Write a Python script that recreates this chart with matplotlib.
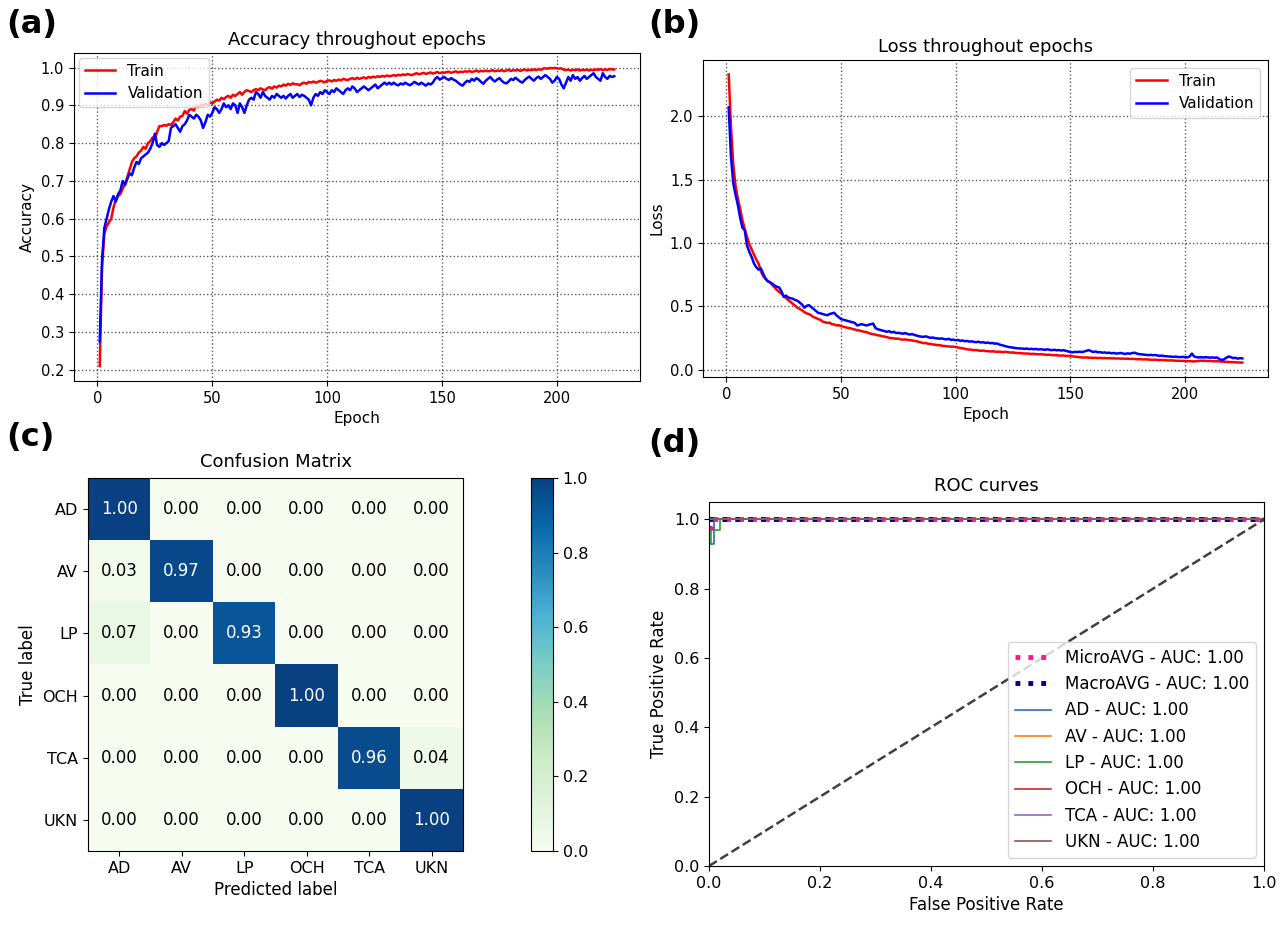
import numpy as np
import matplotlib
matplotlib.use("Agg")
import matplotlib.pyplot as plt

# training history (epochs 1..225)
train_acc = [
    0.21, 0.47, 0.56, 0.58, 0.59, 0.60, 0.63, 0.65, 0.66, 0.665, 0.68, 0.69, 0.71, 0.73, 0.75,
    0.76, 0.765, 0.775, 0.78, 0.79, 0.785, 0.80, 0.805, 0.815, 0.81, 0.83, 0.845, 0.845, 0.848, 0.846,
    0.85, 0.848, 0.855, 0.865, 0.86, 0.87, 0.872, 0.885, 0.878, 0.888, 0.89, 0.886, 0.90, 0.895, 0.902,
    0.898, 0.905, 0.90, 0.908, 0.905, 0.91, 0.915, 0.912, 0.92, 0.916, 0.922, 0.925, 0.92, 0.928, 0.925,
    0.93, 0.935, 0.928, 0.936, 0.94, 0.938, 0.935, 0.94, 0.943, 0.94, 0.945, 0.942, 0.94, 0.946, 0.948,
    0.944, 0.95, 0.947, 0.952, 0.95, 0.955, 0.952, 0.957, 0.954, 0.958, 0.956, 0.956, 0.953, 0.958, 0.96,
    0.957, 0.962, 0.96, 0.963, 0.96, 0.962, 0.965, 0.963, 0.961, 0.965, 0.966, 0.963, 0.967, 0.965, 0.968,
    0.966, 0.97, 0.968, 0.967, 0.97, 0.972, 0.969, 0.973, 0.97, 0.972, 0.974, 0.971, 0.975, 0.973, 0.976,
    0.974, 0.977, 0.975, 0.978, 0.976, 0.979, 0.977, 0.978, 0.98, 0.978, 0.981, 0.979, 0.982, 0.98, 0.983,
    0.981, 0.98, 0.983, 0.985, 0.982, 0.984, 0.986, 0.983, 0.985, 0.987, 0.984, 0.986, 0.988, 0.985, 0.987,
    0.986, 0.988, 0.989, 0.986, 0.988, 0.99, 0.987, 0.989, 0.988, 0.99, 0.989, 0.991, 0.988, 0.99, 0.992,
    0.989, 0.991, 0.99, 0.992, 0.99, 0.991, 0.993, 0.99, 0.992, 0.991, 0.993, 0.99, 0.992, 0.994, 0.991,
    0.993, 0.992, 0.994, 0.991, 0.993, 0.995, 0.992, 0.994, 0.993, 0.995, 0.993, 0.996, 0.994, 0.997, 0.998,
    0.997, 0.999, 0.998, 0.999, 0.998, 0.997, 0.998, 0.994, 0.993, 0.995, 0.992, 0.994, 0.993, 0.995, 0.992,
    0.994, 0.993, 0.995, 0.992, 0.994, 0.993, 0.995, 0.994, 0.996, 0.993, 0.995, 0.994, 0.996, 0.995, 0.995,
]
val_acc = [
    0.275, 0.49, 0.575, 0.60, 0.625, 0.645, 0.66, 0.645, 0.665, 0.675, 0.70, 0.69, 0.705, 0.72, 0.715,
    0.735, 0.75, 0.745, 0.76, 0.765, 0.77, 0.775, 0.785, 0.80, 0.825, 0.795, 0.79, 0.80, 0.795, 0.80,
    0.805, 0.84, 0.845, 0.85, 0.84, 0.83, 0.845, 0.85, 0.86, 0.875, 0.87, 0.865, 0.875, 0.87, 0.86,
    0.84, 0.855, 0.875, 0.87, 0.88, 0.895, 0.89, 0.88, 0.89, 0.905, 0.895, 0.90, 0.89, 0.905, 0.90,
    0.88, 0.905, 0.895, 0.88, 0.90, 0.915, 0.92, 0.915, 0.935, 0.93, 0.92, 0.935, 0.925, 0.92, 0.915,
    0.925, 0.92, 0.93, 0.925, 0.92, 0.925, 0.918, 0.925, 0.93, 0.92, 0.925, 0.93, 0.922, 0.928, 0.925,
    0.92, 0.915, 0.90, 0.92, 0.93, 0.925, 0.935, 0.93, 0.94, 0.935, 0.93, 0.94, 0.935, 0.945, 0.94,
    0.935, 0.93, 0.94, 0.945, 0.94, 0.95, 0.945, 0.935, 0.94, 0.945, 0.95, 0.945, 0.94, 0.945, 0.95,
    0.955, 0.945, 0.95, 0.955, 0.96, 0.955, 0.96, 0.955, 0.96, 0.955, 0.953, 0.958, 0.955, 0.96, 0.956,
    0.953, 0.957, 0.962, 0.958, 0.955, 0.96, 0.956, 0.952, 0.958, 0.955, 0.96, 0.97, 0.975, 0.968, 0.972,
    0.975, 0.97, 0.967, 0.972, 0.968, 0.965, 0.96, 0.955, 0.952, 0.96, 0.965, 0.962, 0.97, 0.965, 0.972,
    0.968, 0.962, 0.957, 0.965, 0.97, 0.975, 0.968, 0.963, 0.968, 0.972, 0.965, 0.96, 0.958, 0.963, 0.97,
    0.967, 0.973, 0.968, 0.963, 0.96, 0.967, 0.972, 0.976, 0.97, 0.965, 0.972, 0.976, 0.97, 0.975, 0.98,
    0.975, 0.97, 0.96, 0.965, 0.975, 0.97, 0.955, 0.945, 0.96, 0.975, 0.965, 0.98, 0.97, 0.975, 0.965,
    0.972, 0.978, 0.97, 0.975, 0.98, 0.985, 0.975, 0.97, 0.965, 0.985, 0.975, 0.97, 0.978, 0.975, 0.977,
]
train_loss = [
    2.33, 1.92, 1.62, 1.45, 1.35, 1.27, 1.18, 1.11, 1.05, 0.99, 0.95, 0.91, 0.87, 0.84, 0.78,
    0.74, 0.72, 0.70, 0.69, 0.67, 0.65, 0.63, 0.615, 0.60, 0.585, 0.565, 0.55, 0.535, 0.52, 0.505,
    0.49, 0.48, 0.47, 0.455, 0.445, 0.44, 0.43, 0.415, 0.41, 0.40, 0.395, 0.38, 0.375, 0.37, 0.372,
    0.36, 0.358, 0.35, 0.352, 0.345, 0.34, 0.335, 0.33, 0.328, 0.322, 0.318, 0.312, 0.31, 0.305, 0.30,
    0.298, 0.29, 0.285, 0.28, 0.278, 0.272, 0.27, 0.265, 0.262, 0.258, 0.252, 0.25, 0.248, 0.245, 0.246,
    0.24, 0.238, 0.24, 0.236, 0.234, 0.232, 0.228, 0.225, 0.22, 0.215, 0.21, 0.212, 0.205, 0.205, 0.20,
    0.198, 0.195, 0.195, 0.19, 0.188, 0.186, 0.185, 0.182, 0.183, 0.18, 0.176, 0.172, 0.17, 0.166, 0.162,
    0.16, 0.158, 0.155, 0.156, 0.152, 0.15, 0.152, 0.148, 0.147, 0.145, 0.146, 0.144, 0.142, 0.143, 0.141,
    0.14, 0.142, 0.138, 0.136, 0.137, 0.134, 0.132, 0.133, 0.13, 0.128, 0.129, 0.127, 0.125, 0.126, 0.124,
    0.122, 0.124, 0.121, 0.12, 0.118, 0.119, 0.116, 0.115, 0.116, 0.113, 0.112, 0.113, 0.11, 0.109, 0.108,
    0.106, 0.104, 0.102, 0.10, 0.098, 0.097, 0.098, 0.095, 0.096, 0.094, 0.095, 0.093, 0.094, 0.092, 0.093,
    0.091, 0.092, 0.09, 0.091, 0.089, 0.09, 0.088, 0.089, 0.087, 0.088, 0.086, 0.087, 0.085, 0.084, 0.085,
    0.083, 0.082, 0.083, 0.081, 0.08, 0.079, 0.08, 0.078, 0.077, 0.078, 0.076, 0.075, 0.074, 0.075, 0.073,
    0.072, 0.071, 0.07, 0.071, 0.069, 0.068, 0.07, 0.067, 0.066, 0.068, 0.07, 0.072, 0.07, 0.071, 0.069,
    0.07, 0.068, 0.067, 0.068, 0.066, 0.065, 0.064, 0.063, 0.062, 0.061, 0.06, 0.059, 0.058, 0.058, 0.057,
]
val_loss = [
    2.07, 1.68, 1.47, 1.38, 1.30, 1.20, 1.12, 1.10, 0.98, 0.93, 0.89, 0.84, 0.81, 0.79, 0.80,
    0.76, 0.72, 0.70, 0.69, 0.68, 0.665, 0.655, 0.65, 0.62, 0.575, 0.585, 0.57, 0.565, 0.56, 0.55,
    0.545, 0.53, 0.515, 0.49, 0.505, 0.51, 0.495, 0.48, 0.465, 0.45, 0.445, 0.44, 0.435, 0.43, 0.44,
    0.445, 0.45, 0.43, 0.415, 0.40, 0.395, 0.39, 0.385, 0.38, 0.375, 0.37, 0.35, 0.355, 0.36, 0.355,
    0.35, 0.355, 0.36, 0.365, 0.33, 0.32, 0.315, 0.31, 0.305, 0.30, 0.305, 0.295, 0.30, 0.29, 0.292,
    0.288, 0.285, 0.29, 0.283, 0.278, 0.282, 0.275, 0.27, 0.265, 0.262, 0.26, 0.264, 0.258, 0.252, 0.255,
    0.25, 0.248, 0.245, 0.248, 0.242, 0.24, 0.245, 0.236, 0.238, 0.233, 0.236, 0.228, 0.232, 0.225, 0.228,
    0.222, 0.225, 0.22, 0.218, 0.222, 0.215, 0.218, 0.212, 0.215, 0.21, 0.212, 0.206, 0.208, 0.20, 0.195,
    0.19, 0.185, 0.18, 0.178, 0.175, 0.172, 0.17, 0.168, 0.168, 0.165, 0.168, 0.163, 0.166, 0.162, 0.165,
    0.16, 0.163, 0.16, 0.158, 0.162, 0.157, 0.155, 0.158, 0.154, 0.156, 0.152, 0.155, 0.15, 0.145, 0.14,
    0.138, 0.142, 0.14, 0.143, 0.14, 0.144, 0.15, 0.155, 0.148, 0.14, 0.145, 0.138, 0.14, 0.135, 0.137,
    0.133, 0.135, 0.13, 0.133, 0.128, 0.13, 0.133, 0.128, 0.125, 0.13, 0.127, 0.132, 0.135, 0.128, 0.124,
    0.122, 0.12, 0.118, 0.116, 0.118, 0.115, 0.117, 0.113, 0.11, 0.112, 0.108, 0.107, 0.105, 0.104, 0.102,
    0.104, 0.101, 0.10, 0.102, 0.10, 0.098, 0.105, 0.128, 0.105, 0.10, 0.098, 0.10, 0.097, 0.10, 0.098,
    0.096, 0.098, 0.095, 0.097, 0.085, 0.078, 0.082, 0.095, 0.105, 0.10, 0.092, 0.095, 0.088, 0.092, 0.09,
]
epochs = np.arange(1, len(train_acc) + 1)

# normalized confusion matrix
classes = ["AD", "AV", "LP", "OCH", "TCA", "UKN"]
conf = np.array([
    [1.00, 0.00, 0.00, 0.00, 0.00, 0.00],
    [0.03, 0.97, 0.00, 0.00, 0.00, 0.00],
    [0.07, 0.00, 0.93, 0.00, 0.00, 0.00],
    [0.00, 0.00, 0.00, 1.00, 0.00, 0.00],
    [0.00, 0.00, 0.00, 0.00, 0.96, 0.04],
    [0.00, 0.00, 0.00, 0.00, 0.00, 1.00],
])

# ROC points per curve (fpr, tpr)
micro_fpr = [0.0, 0.005, 0.005, 1.0]
micro_tpr = [0.975, 0.975, 1.0, 1.0]
macro_fpr = [0.0, 1.0]
macro_tpr = [1.0, 1.0]
class_fpr = {
    "AD": [0.0, 0.0, 0.009, 0.009, 1.0],
    "AV": [0.0, 0.0, 1.0],
    "LP": [0.0, 0.0, 0.004, 0.004, 0.019, 0.019, 1.0],
    "OCH": [0.0, 0.0, 1.0],
    "TCA": [0.0, 0.0, 1.0],
    "UKN": [0.0, 0.0, 1.0],
}
class_tpr = {
    "AD": [0.0, 0.93, 0.93, 1.0, 1.0],
    "AV": [0.0, 1.0, 1.0],
    "LP": [0.0, 0.93, 0.93, 0.97, 0.97, 1.0, 1.0],
    "OCH": [0.0, 1.0, 1.0],
    "TCA": [0.0, 1.0, 1.0],
    "UKN": [0.0, 1.0, 1.0],
}
class_colors = ["tab:blue", "tab:orange", "tab:green", "tab:red", "tab:purple", "tab:brown"]

W, H = 1282, 932
fig = plt.figure(figsize=(W / 100, H / 100), dpi=100)


def px_axes(left, top, right, bottom):
    return fig.add_axes([left / W, 1 - bottom / H, (right - left) / W, (bottom - top) / H])


def auc(x, y):
    x = np.asarray(x)
    y = np.asarray(y)
    return float(np.sum(np.diff(x) * (y[1:] + y[:-1]) / 2))


tick_fs = 10.5
grid_kw = dict(color="0.35", linestyle=":", linewidth=1.0)

# (a) accuracy
ax = px_axes(74, 53, 640, 381)
ax.plot(epochs, train_acc, color="red", lw=1.8, label="Train")
ax.plot(epochs, val_acc, color="blue", lw=1.8, label="Validation")
ax.set_title("Accuracy throughout epochs", fontsize=13)
ax.set_xlabel("Epoch", fontsize=11)
ax.set_ylabel("Accuracy", fontsize=11)
ax.set_yticks(np.arange(0.2, 1.01, 0.1))
ax.set_xticks([0, 50, 100, 150, 200])
ax.tick_params(labelsize=tick_fs)
ax.grid(True, **grid_kw)
ax.legend(loc="upper left", fontsize=11, borderaxespad=0.3)

# (b) loss
ax = px_axes(703, 60, 1268, 377)
ax.plot(epochs, train_loss, color="red", lw=1.8, label="Train")
ax.plot(epochs, val_loss, color="blue", lw=1.8, label="Validation")
ax.set_title("Loss throughout epochs", fontsize=13)
ax.set_xlabel("Epoch", fontsize=11)
ax.set_ylabel("Loss", fontsize=11)
ax.set_yticks([0.0, 0.5, 1.0, 1.5, 2.0])
ax.set_xticks([0, 50, 100, 150, 200])
ax.tick_params(labelsize=tick_fs)
ax.grid(True, **grid_kw)
ax.legend(loc="upper right", fontsize=11)

# (c) confusion matrix
ax = px_axes(88, 478, 463, 851)
im = ax.imshow(conf, cmap="GnBu", vmin=0, vmax=1, aspect="auto")
for i in range(len(classes)):
    for j in range(len(classes)):
        v = conf[i, j]
        ax.text(j, i, f"{v:.2f}", ha="center", va="center", fontsize=12,
                color="white" if v > 0.5 else "black")
ax.set_xticks(range(len(classes)))
ax.set_yticks(range(len(classes)))
ax.set_xticklabels(classes)
ax.set_yticklabels(classes)
ax.tick_params(labelsize=11.5)
ax.set_xlabel("Predicted label", fontsize=12)
ax.set_ylabel("True label", fontsize=12)
ax.set_title("Confusion Matrix", fontsize=13, pad=8)
cax = px_axes(531, 478, 553, 851)
cb = fig.colorbar(im, cax=cax, ticks=np.arange(0, 1.01, 0.2))
cb.ax.tick_params(labelsize=11.5)
cb.ax.set_yticklabels([f"{t:.1f}" for t in np.arange(0, 1.01, 0.2)])

# (d) ROC curves
ax = px_axes(709, 502, 1264, 866)
ax.plot(micro_fpr, micro_tpr, color="deeppink", linestyle=":", lw=3.5,
        label=f"MicroAVG - AUC: {auc(micro_fpr, micro_tpr):.2f}")
ax.plot(macro_fpr, macro_tpr, color="navy", linestyle=":", lw=3.5,
        label=f"MacroAVG - AUC: {auc(macro_fpr, macro_tpr):.2f}")
for name, c in zip(classes, class_colors):
    f, t = class_fpr[name], class_tpr[name]
    ax.plot(f, t, color=c, lw=1.2, label=f"{name} - AUC: {auc(f, t):.2f}")
ax.plot([0, 1], [0, 1], color="0.25", linestyle="--", lw=1.8)
ax.set_xlim(0, 1)
ax.set_ylim(0, 1.05)
ax.set_xticks(np.arange(0, 1.01, 0.2))
ax.set_yticks(np.arange(0, 1.01, 0.2))
ax.tick_params(labelsize=11.5)
ax.set_xlabel("False Positive Rate", fontsize=12)
ax.set_ylabel("True Positive Rate", fontsize=12)
ax.set_title("ROC curves", fontsize=13, pad=8)
ax.legend(loc="lower right", fontsize=12, handlelength=2.2)

# panel letters
for lbl, x, y in [("(a)", 6, 33), ("(b)", 648, 33), ("(c)", 6, 446), ("(d)", 648, 452)]:
    fig.text(x / W, 1 - y / H, lbl, fontsize=23, fontweight="bold", ha="left", va="baseline")

fig.savefig("out.png", dpi=100)
